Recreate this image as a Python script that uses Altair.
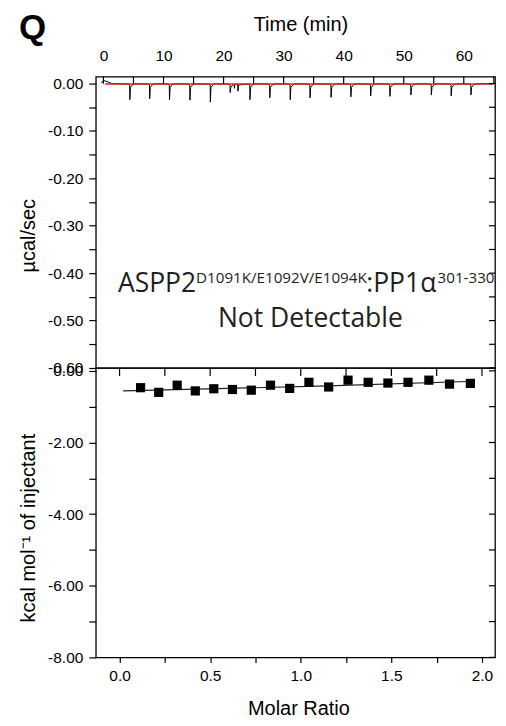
import altair as alt
import pandas as pd

# ---------------- data ----------------
# raw thermogram: injection times (min) and spike minima (µcal/sec)
inj_time = [4.4, 7.7, 11.0, 14.4, 17.8, 21.1, 24.4, 27.7, 31.1, 34.4,
            37.9, 41.2, 44.5, 47.7, 51.2, 54.6, 57.9, 61.2]
inj_peak = [-0.034, -0.032, -0.034, -0.035, -0.039, -0.019, -0.034, -0.030,
            -0.034, -0.030, -0.029, -0.028, -0.026, -0.027, -0.024, -0.024,
            -0.026, -0.024]
glitch_time = [21.8, 22.4]
glitch_val = [-0.010, -0.016]
start_time = [-0.4, 0.2, 0.8, 1.4]
start_val = [0.002, 0.006, 0.003, 0.0]
end_time = [64.9]
end_val = [0.0]
base_time = [0.3, 64.9]
base_val = [-0.001, -0.001]

# integrated heats
ratio = [0.116, 0.216, 0.318, 0.418, 0.520, 0.623, 0.727, 0.833, 0.939,
         1.045, 1.154, 1.261, 1.372, 1.481, 1.592, 1.707, 1.821, 1.936]
heat = [-0.47, -0.60, -0.40, -0.56, -0.50, -0.52, -0.54, -0.40, -0.49,
        -0.32, -0.45, -0.26, -0.32, -0.34, -0.32, -0.26, -0.37, -0.35]
fit_ratio = [0.02, 0.60, 1.15, 1.96]
fit_heat = [-0.56, -0.49, -0.42, -0.29]

# axis ticks
time_labels = [0, 10, 20, 30, 40, 50, 60]
time_ticks = [0, 5, 10, 15, 20, 25, 30, 35, 40, 45, 50, 55, 60, 65]
ucal_ticks = [0.0, -0.05, -0.10, -0.15, -0.20, -0.25, -0.30, -0.35, -0.40,
              -0.45, -0.50, -0.55, -0.60]
ratio_ticks = [0.0, 0.25, 0.5, 0.75, 1.0, 1.25, 1.5, 1.75, 2.0]
kcal_ticks = [0, -1, -2, -3, -4, -5, -6, -7, -8]

# ---------------- build tables ----------------
rows = list(zip(start_time, start_val))
spike_shape = [(-0.3, -0.001), (-0.03, -0.003), (0.0, None), (0.1, -0.008),
               (0.5, -0.002), (1.0, -0.0005)]
for t, p in zip(inj_time, inj_peak):
    for dt, v in spike_shape:
        rows.append((t + dt, p if v is None else v))
for t, v in zip(glitch_time, glitch_val):
    rows += [(t - 0.04, -0.002), (t, v), (t + 0.08, -0.003)]
rows += list(zip(end_time, end_val))
rows.sort()
trace = pd.DataFrame(rows, columns=["t", "v"])
baseline = pd.DataFrame({"t": base_time, "v": base_val})
heats = pd.DataFrame({"r": ratio, "h": heat})
fit = pd.DataFrame({"r": fit_ratio, "h": fit_heat})

W, H1, H2 = 400, 292, 290
TICK_IN = 7
FONT = "Liberation Sans"
ANN = "Open Sans"
ANN_COLOR = "#231f20"

x_time_scale = alt.Scale(domain=[-1.27, 65.2], nice=False, zero=False)
y_ucal_scale = alt.Scale(domain=[-0.60, 0.0147], nice=False, zero=False)
x_ratio_scale = alt.Scale(domain=[-0.131, 2.072], nice=False, zero=False)
y_kcal_scale = alt.Scale(domain=[-8.0, 0.08], nice=False, zero=False)

minus_fix = "replace(format(datum.value, '.2f'), '\u2212', '-')"

ax_time = alt.Axis(orient="top", values=time_labels, ticks=False, tickSize=0,
                   labelPadding=13, title="Time (min)", titlePadding=14,
                   titleX=205, format="d")
ax_ucal = alt.Axis(values=ucal_ticks, tickSize=7, labelPadding=6,
                   labelExpr="abs(round(datum.value*100)) % 10 == 0 ? " + minus_fix + " : ''",
                   title="µcal/sec", titlePadding=9, titleY=159)
ax_ratio = alt.Axis(values=ratio_ticks, tickSize=5, labelPadding=6,
                    labelExpr="round(datum.value*100) % 50 == 0 ? format(datum.value, '.1f') : ''",
                    title="Molar Ratio", titlePadding=15, titleX=203)
ax_kcal = alt.Axis(values=kcal_ticks, tickSize=7, labelPadding=6,
                   labelExpr="datum.value % 2 == 0 ? " + minus_fix + " : ''",
                   title="kcal mol\u207b\u00b9 of injectant", titlePadding=9, titleY=160)

X_T = alt.X("t:Q", scale=x_time_scale, axis=ax_time)
Y_U = alt.Y("v:Q", scale=y_ucal_scale, axis=ax_ucal)
X_R = alt.X("r:Q", scale=x_ratio_scale, axis=ax_ratio)
Y_K = alt.Y("h:Q", scale=y_kcal_scale, axis=ax_kcal)

# ---------------- top panel ----------------
raw = alt.Chart(trace).mark_line(color="black", strokeWidth=1.0).encode(x=X_T, y=Y_U)
red = alt.Chart(baseline).mark_line(color="#cc2a2a", strokeWidth=1.6).encode(x=X_T, y=Y_U)
top_in = alt.Chart(pd.DataFrame({"t": time_ticks})).mark_rule(
    color="black", strokeWidth=1.2).encode(x=X_T, y=alt.value(0), y2=alt.value(TICK_IN))
right_in_top = alt.Chart(pd.DataFrame({"v": ucal_ticks})).mark_rule(
    color="black", strokeWidth=1.2).encode(y=Y_U, x=alt.value(W - 6), x2=alt.value(W))


def label(txt, x, y, size, align="left", font=ANN, weight="normal", color=ANN_COLOR):
    return alt.Chart(pd.DataFrame({"s": [txt]})).mark_text(
        align=align, baseline="alphabetic", font=font, fontSize=size,
        fontWeight=weight, color=color).encode(
        text="s:N", x=alt.value(x), y=alt.value(y))


panel_letter = label("Q", -77, -38, 35, font=FONT, weight="bold", color="black")
t1 = label("ASPP2", 100.5, 215.7, 26.5, align="right")
t2 = label("D1091K/E1092V/E1094K", 100.5, 207.3, 15.2)
t3 = label(":PP1\u03b1", 271, 215.7, 26.5)
t4 = label("301-330", 342.5, 207.3, 15.2)
t5 = label("Not Detectable", 215, 251.3, 26.5, align="center")

top = alt.layer(raw, red, top_in, right_in_top, panel_letter, t1, t2, t3, t4, t5).properties(
    width=W, height=H1)

# ---------------- bottom panel ----------------
fit_line = alt.Chart(fit).mark_line(color="#222222", strokeWidth=1.2).encode(x=X_R, y=Y_K)
squares = alt.Chart(heats).mark_square(color="black", size=85, opacity=1).encode(x=X_R, y=Y_K)
bot_top_in = alt.Chart(pd.DataFrame({"r": ratio_ticks})).mark_rule(
    color="black", strokeWidth=1.2).encode(x=X_R, y=alt.value(0), y2=alt.value(8))
right_in_bot = alt.Chart(pd.DataFrame({"h": kcal_ticks})).mark_rule(
    color="black", strokeWidth=1.2).encode(y=Y_K, x=alt.value(W - 6), x2=alt.value(W))

bottom = alt.layer(fit_line, squares, bot_top_in, right_in_bot).properties(width=W, height=H2)

chart = alt.vconcat(top, bottom, spacing=0, bounds="flush").properties(
    padding={"left": 10, "top": 1, "right": 0, "bottom": 0}
).configure_view(
    stroke="black", strokeWidth=1.3
).configure_axis(
    grid=False, domain=False, labelFont=FONT, labelFontSize=15.5, labelColor="black",
    titleFont=FONT, titleFontSize=20, titleFontWeight="normal", titleColor="black",
    tickColor="black", tickWidth=1.2
)

chart.save("out.html", embed_options={"renderer": "svg", "actions": False})
